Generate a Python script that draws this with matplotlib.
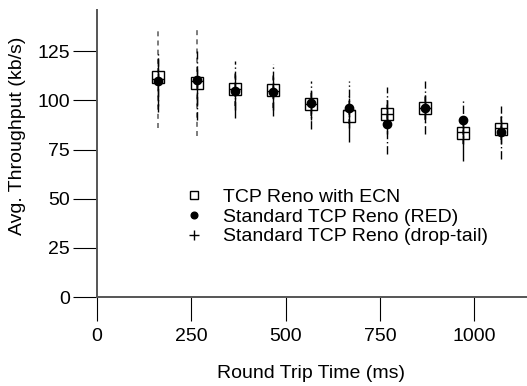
import matplotlib
matplotlib.use('Agg')
import matplotlib.pyplot as plt
import numpy as np

plt.rcParams['font.family'] = ['Liberation Sans', 'DejaVu Sans']

# round trip time (ms)
rtt = [163, 264, 365, 466, 567, 668, 769, 870, 971, 1072]

# TCP Reno with ECN: mean, low, high
ecn_mean = [112, 109, 106, 105.5, 98, 92, 93, 96, 83.5, 85.5]
ecn_low = [97, 97, 91, 92, 90, 79, 83, 89, 69, 78]
ecn_high = [121, 116, 113, 112, 105, 101, 100, 103, 92, 92]

# Standard TCP Reno (RED)
red_mean = [110, 110.5, 105, 104.5, 98.5, 96, 88, 96, 90, 84]
red_low = [94, 90, 95, 95, 85.5, 86, 73, 83, 78, 70]
red_high = [124, 125, 120, 118.5, 110, 110, 107, 110, 100, 97]

# Standard TCP Reno (drop-tail)
dt_mean = [111, 110, 106, 105, 98, 95, 93, 96, 84, 86]
dt_low = [86, 82, 97, 96, 92, 88, 86, 90, 78, 80]
dt_high = [137, 136, 114, 113, 104, 102, 100, 102, 90, 92]

FS = 14

fig = plt.figure(figsize=(5.27, 3.86), dpi=100)
ax = fig.add_axes([97 / 527, (386 - 297) / 386, 430 / 527, 287 / 386])


def errs(mean, low, high):
    m = np.array(mean)
    return [m - np.array(low), np.array(high) - m]


# error bars only
e = ax.errorbar(rtt, dt_mean, yerr=errs(dt_mean, dt_low, dt_high), fmt='none',
                ecolor='#666666', elinewidth=1.2, capsize=0)
e[2][0].set_linestyle((0, (3, 2.5)))
e = ax.errorbar(rtt, red_mean, yerr=errs(red_mean, red_low, red_high), fmt='none',
                ecolor='black', elinewidth=1.0, capsize=0)
e[2][0].set_linestyle((0, (6, 2, 1, 2)))
ax.errorbar(rtt, ecn_mean, yerr=errs(ecn_mean, ecn_low, ecn_high), fmt='none',
            ecolor='black', elinewidth=1.0, capsize=0)

ax.plot(rtt, ecn_mean, ls='none', marker='s', ms=8, mfc='none', mec='black',
        mew=1.0, label='TCP Reno with ECN')
ax.plot(rtt, red_mean, ls='none', marker='o', ms=6, color='black',
        label='Standard TCP Reno (RED)')
ax.plot(rtt, dt_mean, ls='none', marker='+', ms=9, mew=1.0, color='black',
        label='Standard TCP Reno (drop-tail)')

ax.set_xlim(0, 1140)
ax.set_ylim(0, 146)
ax.set_xticks([0, 250, 500, 750, 1000])
ax.set_yticks([0, 25, 50, 75, 100, 125])

for s in ['top', 'right']:
    ax.spines[s].set_visible(False)
for s in ['left', 'bottom']:
    ax.spines[s].set_color('#555555')
    ax.spines[s].set_linewidth(1.4)
ax.tick_params(direction='out', length=17.3, width=0.8, color='black',
               labelsize=FS, pad=2)
ax.tick_params(axis='x', pad=5)

fig.text(311 / 527, 1 - 373 / 386, 'Round Trip Time (ms)', ha='center',
         va='center', fontsize=FS)
fig.text(18 / 527, 1 - 136 / 386, 'Avg. Throughput (kb/s)', ha='center',
         va='center', rotation=90, fontsize=FS)

ax.legend(loc='upper left', bbox_to_anchor=(184 / 527, 1 - 188 / 386),
          bbox_transform=fig.transFigure, frameon=False, fontsize=FS,
          handlelength=1.0, handletextpad=1.0, labelspacing=0.12,
          borderpad=0, borderaxespad=0, markerscale=0.8)

fig.savefig('out.png', dpi=100)
